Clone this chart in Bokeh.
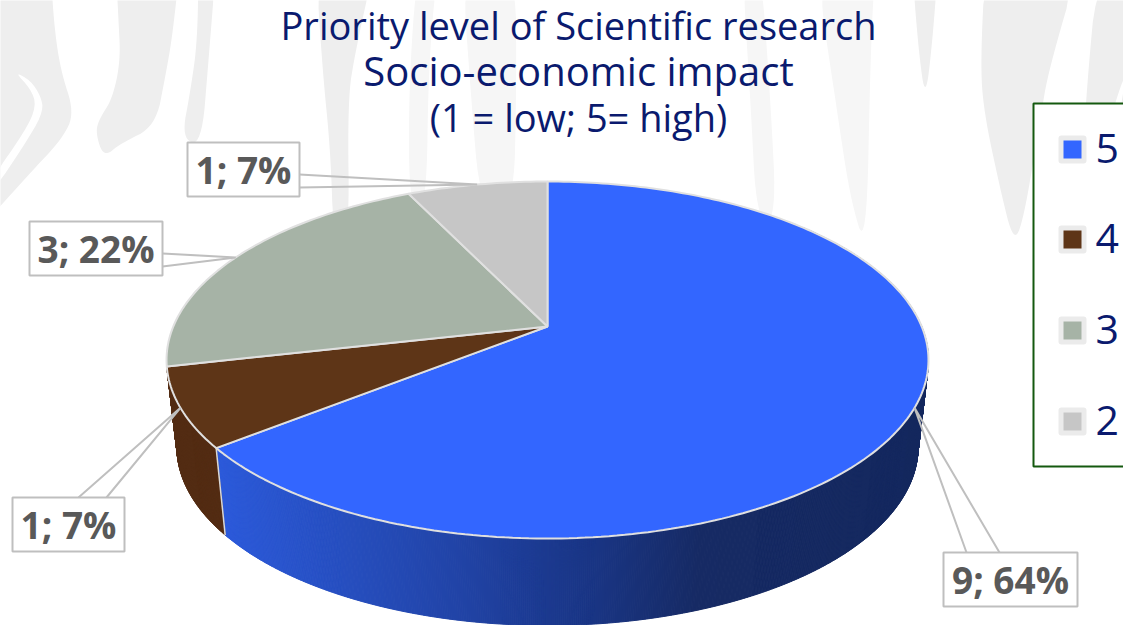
import math
from bokeh.plotting import figure
from bokeh.models import Range1d
from bokeh.core.properties import value
from bokeh.embed import file_html
from bokeh.resources import INLINE

# ---- data ----
categories = ["5", "4", "3", "2"]
counts = [9, 1, 3, 1]
percent_labels = ["64%", "7%", "22%", "7%"]
title_lines = ["Priority level of Scientific research", "Socio-economic impact", "(1 = low; 5= high)"]

# ---- styles ----
top_colors = ["#3366ff", "#5e3517", "#a6b3a6", "#c6c6c6"]
legend_colors = top_colors
TITLE_COLOR = "#0a1a6e"
LABEL_COLOR = "#595959"
FONT = "Open Sans"

# ---- perspective projection of the pie ----
CX, APEX_Y, SPREAD, TILT = 547.0, 326.0, 172.2, 0.1877
R_TOP, R_BOTTOM, APEX_Y_BOTTOM = 374.2, 364.0, 413.0


def top_pt(a):
    X, Y = math.sin(a), math.cos(a)
    d = 1 + TILT * Y
    return CX + R_TOP * X / d, APEX_Y - SPREAD * Y / d


def bottom_pt(a):
    X, Y = math.sin(a), math.cos(a)
    d = 1 + TILT * Y
    return CX + R_BOTTOM * X / d, APEX_Y_BOTTOM - SPREAD * Y / d


total = sum(counts)
edges = [0.0]
for c in counts:
    edges.append(edges[-1] + 2 * math.pi * c / total)

p = figure(width=1123, height=625, output_backend="svg", toolbar_location=None,
           x_range=Range1d(0, 1123), y_range=Range1d(625, 0),
           x_axis_type="linear", min_border=0, outline_line_color=None,
           background_fill_color="white", border_fill_color="white")
p.axis.visible = False
p.grid.visible = False


# ---- watermark behind the chart (decoration, smoothed outlines) ----
def smooth(pts, rounds=3):
    for _ in range(rounds):
        out = []
        for i, a in enumerate(pts):
            b = pts[(i + 1) % len(pts)]
            out.append((0.75 * a[0] + 0.25 * b[0], 0.75 * a[1] + 0.25 * b[1]))
            out.append((0.25 * a[0] + 0.75 * b[0], 0.25 * a[1] + 0.75 * b[1]))
        pts = out
    return pts


wm_dark = [
    [(-40, -40), (50, -40), (53, 20), (60, 70), (74, 112), (62, 138), (30, 172), (-40, 250)],
    [(115, -40), (180, -40), (172, 35), (165, 75), (155, 126), (120, 143), (103, 157), (95, 132), (99, 118), (112, 98), (120, 60), (118, 20)],
    [(198, -40), (216, -40), (208, 60), (201, 145), (181, 138), (190, 90), (197, 40)],
    [(315, -40), (375, -40), (355, 50), (347, 100), (349, 240), (333, 240), (330, 150), (322, 70)],
    [(911, -40), (938, -40), (932, 40), (925, 100), (918, 50)],
    [(985, -40), (1080, -40), (1048, 70), (1040, 117), (1023, 220), (1013, 242), (1000, 190), (983, 110), (980, 60)],
    [(1098, -40), (1170, -40), (1160, 100), (1123, 205), (1108, 208), (1118, 120), (1128, 60), (1100, 150), (1090, 217), (1079, 222), (1085, 100)],
]
wm_light = [
    [(417, -40), (438, -40), (428, 60), (426, 210), (409, 210), (408, 90)],
    [(461, -40), (515, -40), (516, 90), (513, 210), (480, 210), (470, 90)],
    [(741, -40), (760, -40), (770, 100), (776, 220), (756, 220), (750, 100)],
    [(814, -40), (875, -40), (870, 50), (866, 250), (850, 200), (835, 100)],
]
wm_dark = [smooth(s) for s in wm_dark]
wm_light = [smooth(s) for s in wm_light]
p.patches([[q[0] for q in s] for s in wm_dark], [[q[1] for q in s] for s in wm_dark],
          fill_color="#eeeeee", line_color=None)
p.patches([[q[0] for q in s] for s in wm_light], [[q[1] for q in s] for s in wm_light],
          fill_color="#f6f6f6", line_color=None)
streak = smooth([(14, 71), (30, 80), (40, 95), (43, 110), (30, 135), (-10, 195), (-10, 180), (25, 130), (36, 105), (30, 88)], 2)
p.patch([q[0] for q in streak], [q[1] for q in streak], fill_color="white", line_color=None)

# ---- side wall ----
stops = [(215, (44, 90, 218)), (450, (33, 68, 168)), (600, (25, 52, 130)), (700, (22, 42, 100)), (928, (20, 40, 94))]


def grad(x):
    for (x0, c0), (x1, c1) in zip(stops, stops[1:]):
        if x <= x1:
            f = max(0.0, (x - x0) / (x1 - x0))
            return "#%02x%02x%02x" % tuple(round(a + (b - a) * f) for a, b in zip(c0, c1))
    return "#%02x%02x%02x" % stops[-1][1]


def wall_strips(a0, a1, colour=None):
    n = max(2, int(math.degrees(a1 - a0) * 4))
    xs, ys, cs = [], [], []
    for i in range(n):
        u, v = a0 + (a1 - a0) * i / n, a0 + (a1 - a0) * (i + 1) / n
        t0, t1, b1, b0 = top_pt(u), top_pt(v), bottom_pt(v), bottom_pt(u)
        xs.append([t0[0], t1[0], b1[0], b0[0]])
        ys.append([t0[1], t1[1], b1[1], b0[1]])
        cs.append(colour or grad((t0[0] + t1[0]) / 2))
    p.patches(xs, ys, fill_color=cs, line_color=cs, line_width=1)


wall_strips(edges[0] + math.radians(50), edges[1])
wall_strips(edges[1], edges[2], "#532c13")
bx, by = top_pt(edges[1]), bottom_pt(edges[1])
p.line([bx[0], by[0]], [bx[1], by[1]], line_color="#d9d9d9", line_width=1.5)

# ---- top face ----
for i, col in enumerate(top_colors):
    a0, a1 = edges[i], edges[i + 1]
    n = max(4, int(math.degrees(a1 - a0)))
    pts = [top_pt(a0 + (a1 - a0) * k / n) for k in range(n + 1)]
    p.patch([CX] + [q[0] for q in pts], [APEX_Y] + [q[1] for q in pts],
            fill_color=col, line_color="#e0e0e0", line_width=2)

# ---- callout labels ----
label_boxes = [(943, 552, 1077, 606), (12, 497, 124, 551), (29, 221, 162, 275), (187, 142, 299, 196)]
wedge_bases = [((966, 552), (999, 552)), ((78, 497), (106, 497)), ((162, 253), (162, 266)), ((299, 174), (299, 187))]
for i in range(len(counts)):
    l, t, r, b = label_boxes[i]
    tip = top_pt((edges[i] + edges[i + 1]) / 2)
    (ax, ay), (cx, cy) = wedge_bases[i]
    p.line([ax, tip[0], cx], [ay, tip[1], cy], line_color="#bfbfbf", line_width=2)
    p.quad(left=l, right=r, top=t, bottom=b, fill_color="white", line_color="#bfbfbf", line_width=2)
    p.text(x=[(l + r) / 2], y=[(t + b) / 2], text=[f"{counts[i]}; {percent_labels[i]}"],
           text_align="center", text_baseline="middle", text_color=LABEL_COLOR,
           text_font=value(FONT), text_font_style="bold", text_font_size="37px")

# ---- title ----
for line, y, size in zip(title_lines, [24, 70, 116], ["38px", "40px", "38px"]):
    p.text(x=[578], y=[y], text=[line], text_align="center",
           text_baseline="middle", text_color=TITLE_COLOR, text_font=value(FONT),
           text_font_size=size)

# ---- legend ----
p.quad(left=1033, right=1160, top=103, bottom=466, fill_color="white", fill_alpha=1,
       line_color="#14590f", line_width=2)
legend_y = [149, 239, 330, 421]
p.quad(left=[1058] * 4, right=[1086] * 4, top=[y - 14 for y in legend_y], bottom=[y + 14 for y in legend_y],
       fill_color="#ebebeb", line_color=None, border_radius=3)
p.quad(left=[1063] * 4, right=[1081] * 4, top=[y - 9 for y in legend_y], bottom=[y + 9 for y in legend_y],
       fill_color=legend_colors, line_color=None)
p.text(x=[1095] * 4, y=[y - 1 for y in legend_y], text=categories, text_align="left",
       text_baseline="middle", text_color=TITLE_COLOR, text_font=value(FONT), text_font_size="41px")

open("out.html", "w").write(file_html(p, INLINE))
